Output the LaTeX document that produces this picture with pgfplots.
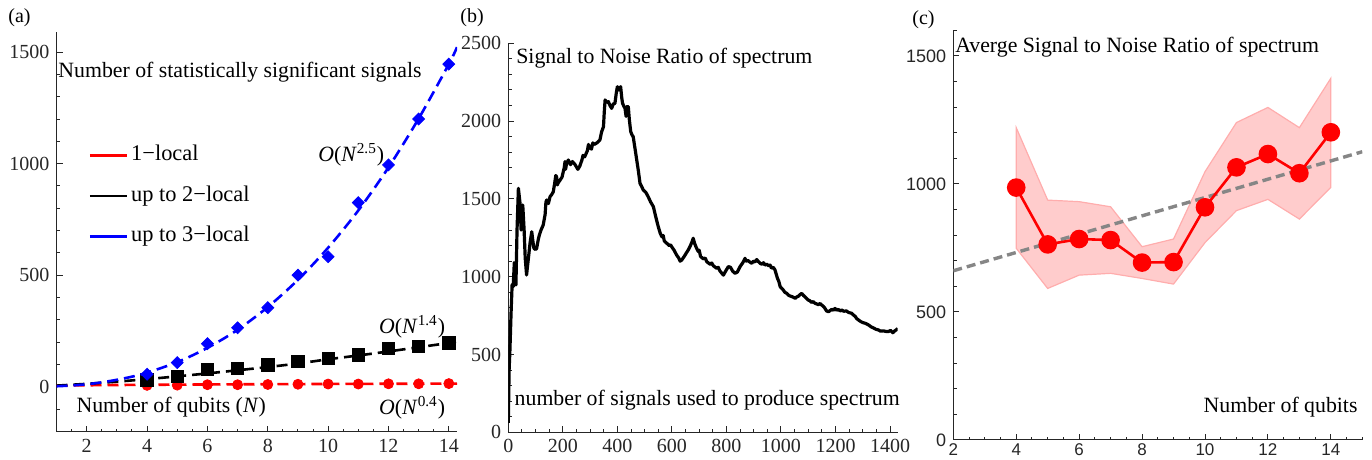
\documentclass[border=0pt]{standalone}
\usepackage{fontspec}
\setmainfont{Liberation Serif}
\newfontfamily\sansf{Liberation Sans}
\usepackage{pgfplots}
\pgfplotsset{compat=1.18}
\newcommand{\txt}{\fontsize{10.9}{13}\selectfont}
\pgfplotsset{
  mma/.style={
    scale only axis,
    axis lines=left,
    axis line style={-, black!85, line width=0.5pt},
    tick style={black!85, line width=0.5pt},
    major tick length=3pt,
    minor tick length=1.6pt,
    tick align=inside,
    /pgf/number format/assume math mode=true,
    /pgf/number format/set thousands separator={},
    tick label style={font=\fontsize{10}{12}\selectfont, text=black!85},
    clip mode=individual,
    anchor=south west,
  }
}
\begin{document}
\begin{tikzpicture}
\useasboundingbox (0,0) rectangle (686pt,230pt);
\clip (0,0) rectangle (686pt,230pt);
\node[anchor=west,font=\fontsize{10}{12}\selectfont,inner sep=0pt] at (4pt,221pt) {(a)};
\node[anchor=west,font=\fontsize{10}{12}\selectfont,inner sep=0pt] at (230pt,221pt) {(b)};
\node[anchor=west,font=\fontsize{10}{12}\selectfont,inner sep=0pt] at (456pt,220pt) {(c)};

% ---------------- (a)
\begin{axis}[mma,
  at={(28.25pt,14pt)},
  width=200.25pt, height=200pt,
  xmin=1, xmax=14.27, ymin=-203, ymax=1590,
  xtick={2,4,...,14}, minor xtick={1,1.5,...,14.5},
  ytick={0,500,1000,1500}, minor ytick={-200,-100,...,1500},
  legend image code/.code={\draw[#1, solid, line width=1.3pt] (0pt,0pt) -- (18.5pt,0pt);},
  legend style={draw=none, fill=none, at={(axis cs:2.05,1095)}, anchor=north west,
    inner sep=0pt, row sep=7.75pt, font=\fontsize{11.2}{13}\selectfont,
    nodes={text height=7.5pt, text depth=2pt, inner sep=1.5pt}},
  legend cell align=left,
]
\addlegendimage{red}\addlegendentry{1−local}
\addlegendimage{black}\addlegendentry{up to 2−local}
\addlegendimage{blue}\addlegendentry{up to 3−local}
% fits
\addplot[forget plot, red, line width=1.3pt, dash pattern=on 5.5pt off 3pt, smooth] coordinates {
(1,4.9)(2,6.5)(3,7.6)(4,8.5)(5,9.3)(6,10)(7,10.7)(8,11.3)(9,11.8)(10,12.3)(11,12.8)(12,13.2)(13,13.6)(14,14)(14.27,14.1)};
\addplot[forget plot, black, line width=1.3pt, dash pattern=on 5.5pt off 3pt, smooth] coordinates {
(1,4.9)(2,12.9)(3,22.7)(4,34)(5,46.4)(6,59.6)(7,73.6)(8,88.2)(9,104)(10,123)(11,140)(12,158)(13,177)(14,196)(14.27,202)};
\addplot[forget plot, only marks, mark=*, red, mark size=2.5pt] coordinates {
(4,6)(5,7)(6,9)(7,9)(8,10)(9,11)(10,12)(11,12)(12,13)(13,13)(14,14)};
\addplot[forget plot, only marks, mark=square*, black, mark size=3.1pt] coordinates {
(4,30)(5,45)(6,78)(7,83)(8,98)(9,113)(10,128)(11,143)(12,173)(13,181)(14,196)};
\addplot[forget plot, blue, line width=1.3pt, dash pattern=on 5.5pt off 3pt, smooth] coordinates {
(1,2)(1.5,5.5)(2,11)(2.5,19.5)(3,31)(3.5,45)(4,63)(5,110)(6,174)(7,255)(8,357)(9,479)(10,623)(11,790)(12,983)(13,1202)(14,1446)(14.27,1522)};
\addplot[forget plot, only marks, mark=square*, blue, mark size=2.1pt, every mark/.append style={rotate=45}] coordinates {
(4,56)(5,108)(6,193)(7,264)(8,354)(9,500)(10,583)(11,825)(12,994)(13,1200)(14,1446)};
\node[anchor=west, font=\txt, inner sep=0pt] at (axis cs:1.05,1412) {Number of statistically significant signals};
\node[anchor=west, font=\txt, inner sep=0pt] at (axis cs:1.65,-92) {Number of qubits (\textit{N})};
\node[anchor=west, font=\txt, inner sep=0pt] at (axis cs:9.66,1040) {\textit{O}(\textit{N}\textsuperscript{2.5})};
\node[anchor=west, font=\txt, inner sep=0pt] at (axis cs:11.68,268) {\textit{O}(\textit{N}\textsuperscript{1.4})};
\node[anchor=west, font=\txt, inner sep=0pt] at (axis cs:11.68,-96) {\textit{O}(\textit{N}\textsuperscript{0.4})};
\end{axis}

% ---------------- (b)
\begin{axis}[mma,
  at={(254.15pt,13.85pt)},
  width=194.7pt, height=194.5pt,
  xmin=0, xmax=1428, ymin=0, ymax=2500,
  xtick={0,200,...,1400}, minor xtick={50,100,...,1400},
  ytick={0,500,...,2500}, minor ytick={100,200,...,2500},
]
\addplot[black, line width=1.6pt, line join=round] coordinates {
(0,60)(3,400)(6,530)(10,760)(14,950)(18,936)(22,1090)(25,1086)(28,947)(32,1300)
(37,1568)(40,1520)(43,1473)(47,1300)(50,1420)(53,1461)(58,1300)(62,1120)(67,1011)(70,1060)
(73,1107)(80,1220)(86,1289)(90,1230)(94,1182)(100,1175)(104,1182)(110,1240)(114,1268)(120,1300)
(128,1332)(135,1400)(138,1480)(141,1493)(147,1470)(153,1514)(160,1530)(165,1546)(170,1600)(174,1650)(177,1643)(180,1590)(182,1600)
(190,1621)(197,1640)(205,1700)(208,1740)(210,1690)(214,1729)(220,1750)(228,1720)(235,1740)(245,1720)(255,1690)
(262,1710)(270,1750)(274,1780)(280,1770)(290,1810)(294,1850)(298,1830)(305,1820)(310,1860)(315,1850)(325,1860)(336,1879)(342,1930)
(349,1964)(352,2060)(355,2136)(361,2120)(367,2125)(373,2100)(379,2082)(385,2110)(391,2114)(396,2180)(400,2221)
(406,2200)(412,2221)(416,2150)(419,2114)(424,2095)(428,2082)(432,2030)(434,2093)(440,2093)(444,2007)(449,1932)
(454,1910)(458,1900)(465,1820)(471,1750)(477,1680)(483,1600)(489,1580)(495,1557)(505,1540)(513,1514)
(522,1480)(532,1450)(540,1390)(550,1321)(557,1280)(563,1257)(568,1265)(572,1230)(581,1215)(590,1200)(595,1205)(599,1193)
(608,1170)(617,1140)(625,1120)(630,1100)(636,1107)(645,1130)(652,1150)(660,1172)(668,1200)(675,1230)(678,1247)
(684,1210)(690,1185)(697,1161)(700,1170)(705,1130)(715,1115)(722,1120)(728,1096)(740,1080)(746,1088)(752,1070)(764,1054)(770,1060)(775,1040)
(783,1022)(789,1010)(795,1030)(807,1065)(815,1060)(823,1035)(831,1022)(840,1030)(850,1065)(860,1090)(868,1118)
(873,1100)(878,1105)(885,1095)(893,1086)(899,1100)(905,1095)(911,1110)(917,1097)(924,1085)(930,1080)(936,1090)(941,1075)(948,1080)(955,1070)(960,1075)(965,1055)(972,1060)(978,1043)(987,990)
(992,970)(997,936)(1003,925)(1008,915)(1014,900)(1021,893)(1028,880)(1035,875)(1043,870)(1052,861)(1058,870)(1064,875)(1070,885)(1076,893)(1082,880)(1088,870)(1094,860)(1100,850)(1106,845)(1112,835)
(1118,840)(1125,829)(1131,825)(1137,820)(1143,828)(1149,818)(1155,810)(1160,800)(1167,780)(1174,775)(1180,782)(1186,790)(1192,785)(1198,796)(1204,785)(1210,790)(1217,780)(1223,786)(1230,778)(1240,780)(1248,770)
(1259,765)(1265,755)(1272,745)(1278,730)(1284,722)(1292,712)(1300,705)(1310,700)(1321,690)(1330,678)(1340,670)(1348,662)(1357,658)(1365,650)(1375,652)(1385,648)(1394,647)(1402,655)(1410,640)
(1416,650)(1420,655)(1424,660)(1428,668)};
\node[anchor=west, font=\txt, inner sep=0pt] at (axis cs:28,2404) {Signal to Noise Ratio of spectrum};
\node[anchor=west, font=\txt, inner sep=0pt] at (axis cs:22,208) {number of signals used to produce spectrum};
\end{axis}

% ---------------- (c)
\begin{axis}[mma,
  at={(476.65pt,10pt)},
  width=204.5pt, height=204.8pt,
  xmin=2, xmax=15, ymin=0, ymax=1600,
  xtick={2,4,...,14}, minor xtick={2.5,3,...,15},
  ytick={0,500,1000,1500}, minor ytick={100,200,...,1600},
  /pgf/number format/assume math mode=true,
  tick label style={font=\sansf\fontsize{9}{11}\selectfont, text=black!85},
  xticklabel style={font=\sansf\fontsize{8.5}{10}\selectfont, inner sep=0pt, yshift=-1.6pt},
]
\addplot[fill=red!20, draw=red!32, line width=0.6pt] coordinates {
(4,1220)(5,937)(6,931)(7,911)(8,755)(9,785)(10,1048)(11,1240)(12,1299)(13,1220)(14,1413)
(14,987)(13,863)(12,940)(11,896)(10,771)(9,609)(8,631)(7,651)(6,644)(5,592)(4,749)} -- cycle;
\addplot[gray!95, line width=1.7pt, dash pattern=on 4.5pt off 2.5pt] coordinates {(2,661)(15,1126)};
\addplot[red, line width=1.3pt, mark=*, mark size=4pt] coordinates {
(4,986)(5,764)(6,785)(7,781)(8,693)(9,695)(10,909)(11,1065)(12,1117)(13,1042)(14,1202)};
\node[anchor=west, font=\txt, inner sep=0pt] at (axis cs:2.05,1536) {Averge Signal to Noise Ratio of spectrum};
\node[anchor=east, font=\txt, inner sep=0pt] at (axis cs:14.86,130) {Number of qubits};
\end{axis}
\end{tikzpicture}
\end{document}
